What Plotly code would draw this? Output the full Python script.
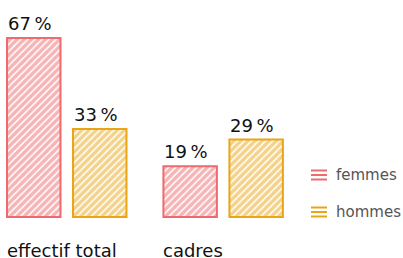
import plotly.graph_objects as go

categories = ["effectif total", "cadres"]
femmes = [67, 19]
hommes = [33, 29]
series_names = ["femmes", "hommes"]
colors = {"femmes": "#EE6A6D", "hommes": "#EAA515"}
FONT = "DejaVu Sans"

fig = go.Figure()
for name, vals in zip(series_names, [femmes, hommes]):
    c = colors[name]
    fig.add_trace(go.Bar(
        x=categories, y=vals, name=name,
        marker=dict(color="white", line=dict(color=c, width=2),
                    pattern=dict(shape="/", fgcolor=c, bgcolor="white",
                                 size=5, solidity=0.7, fillmode="overlay")),
        showlegend=False, hoverinfo="skip",
    ))

# value labels, left-aligned with each bar's left edge
for i, cat in enumerate(categories):
    for name, vals, xs in [("femmes", femmes, -61), ("hommes", hommes, 5)]:
        fig.add_annotation(x=cat, y=vals[i], text=f"{vals[i]}\u202f%", showarrow=False,
                           xanchor="left", yanchor="bottom", xshift=xs, yshift=2,
                           font=dict(family=FONT, size=18, color="#111"))
    fig.add_annotation(x=cat, y=0, text=cat, showarrow=False, xanchor="left",
                       yanchor="middle", xshift=-61, yshift=-33, borderpad=0,
                       font=dict(family=FONT, size=18, color="#111"))

# custom legend
leg_y = {"femmes": 175, "hommes": 212}
for name in series_names:
    yc = leg_y[name]
    for dy in (-4.5, 0, 4.5):
        yp = (258 - (yc + dy)) / 258
        fig.add_shape(type="line", xref="paper", yref="paper", x0=311 / 403, x1=327 / 403,
                      y0=yp, y1=yp, line=dict(color=colors[name], width=2))
    fig.add_annotation(xref="paper", yref="paper", x=334 / 403, y=(258 - yc) / 258,
                       text=name, showarrow=False, xanchor="left", yanchor="middle",
                       font=dict(family=FONT, size=15, color="#555"))

px_per_cat = 156.4
fig.update_layout(
    width=403, height=258, margin=dict(l=0, r=0, t=0, b=0),
    paper_bgcolor="white", plot_bgcolor="white",
    barmode="group", bargap=0.156, bargroupgap=0.19,
    xaxis=dict(range=[-66.75 / px_per_cat, (403 - 66.75) / px_per_cat], showticklabels=False,
               showgrid=False, zeroline=False, showline=False, fixedrange=True),
    yaxis=dict(range=[-41 / 2.67, 217 / 2.67], showticklabels=False, showgrid=False,
               zeroline=False, showline=False, fixedrange=True),
)
fig.write_html("out.html", config={"displayModeBar": False},
               post_script="document.body.style.margin='0';document.body.style.overflow='hidden';")
